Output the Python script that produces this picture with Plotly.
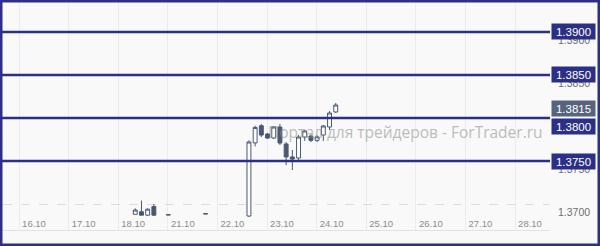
import plotly.graph_objects as go

# ---- data ----
day_labels = ["16.10", "17.10", "18.10", "21.10", "22.10", "23.10",
              "24.10", "25.10", "26.10", "27.10", "28.10"]

candle_day = ["18.10", "18.10", "18.10", "18.10", "18.10", "21.10",
              "22.10", "22.10", "22.10", "22.10", "22.10", "22.10",
              "23.10", "23.10", "23.10", "23.10", "23.10", "23.10", "23.10", "23.10",
              "24.10"]
candle_hour = [1, 4, 7, 10, 17, 11,
               8, 11, 14, 17, 20, 23,
               2, 5, 8, 11, 14, 17, 20, 23,
               2]
opens = [1.3688, 1.3691, 1.3687, 1.3697, 1.36872, 1.36884,
         1.3686, 1.3771, 1.3791, 1.37814, 1.37767, 1.37895,
         1.37698, 1.37547, 1.37535, 1.37779, 1.3779, 1.3774, 1.37802, 1.37895,
         1.3807]
highs = [1.3695, 1.3704, 1.3695, 1.3700, 1.36876, 1.36888,
         1.3774, 1.3791, 1.3793, 1.37826, 1.37907, 1.37930,
         1.37721, 1.37628, 1.37802, 1.37860, 1.3781, 1.3780, 1.37919, 1.38081,
         1.38174]
lows = [1.3688, 1.3687, 1.3686, 1.3686, 1.36872, 1.36884,
        1.3685, 1.3767, 1.37779, 1.37756, 1.37756, 1.37686,
        1.37453, 1.37395, 1.37488, 1.37733, 1.3772, 1.3772, 1.37733, 1.37860,
        1.3806]
closes = [1.3693, 1.3687, 1.3694, 1.3687, 1.36876, 1.36888,
          1.37721, 1.3789, 1.37802, 1.37767, 1.37895, 1.37709,
          1.37547, 1.37523, 1.37779, 1.37849, 1.3774, 1.3778, 1.37907, 1.38058,
          1.38151]

levels = [1.3900, 1.3850, 1.3800, 1.3750]
level_label_shift = [0, 0, -9, 0]
y_ticks = [1.3700, 1.3750, 1.3800, 1.3850, 1.3900]
watermark = "Портал для трейдеров - ForTrader.ru"

# ---- styling ----
BLUE = "#2c2f86"
CANDLE = "#4a5872"
W, H = 600, 246
ML, MR, MT, MB = 3, 50, 3, 16
PW, PH = W - ML - MR, H - MT - MB

x_vals = [day_labels.index(d) + h / 24 for d, h in zip(candle_day, candle_hour)]

fig = go.Figure()
fig.add_trace(go.Candlestick(
    x=x_vals, open=opens, high=highs, low=lows, close=closes,
    increasing=dict(line=dict(color=CANDLE, width=1), fillcolor="#ffffff"),
    decreasing=dict(line=dict(color=CANDLE, width=1), fillcolor=CANDLE),
    whiskerwidth=0, showlegend=False, hoverinfo="skip",
))

shapes = []
for lv in levels:
    shapes.append(dict(type="line", xref="paper", yref="y",
                       x0=-ML / PW, x1=1, y0=lv, y1=lv,
                       line=dict(color=BLUE, width=2.5), layer="above"))
# outer frame
shapes.append(dict(type="rect", xref="paper", yref="paper",
                   x0=-ML / PW, x1=1 + MR / PW, y0=-MB / PH, y1=1 + MT / PH,
                   line=dict(color=BLUE, width=5), layer="above"))

annotations = []
for lv, sh in zip(levels, level_label_shift):
    annotations.append(dict(
        xref="paper", yref="y", x=1, y=lv, xanchor="left", yanchor="middle",
        xshift=1, yshift=sh, text=f"{lv:.4f}", showarrow=False,
        bgcolor=BLUE, font=dict(color="white", size=11.5, family="Liberation Sans"),
        borderpad=1.5, width=40, align="center"))
last = closes[-1]
annotations.append(dict(
    xref="paper", yref="y", x=1, y=last, xanchor="left", yanchor="middle",
    xshift=1, yshift=-3, text=f"{last:.4f}", showarrow=False,
    bgcolor="#56647e", font=dict(color="white", size=11.5, family="Liberation Sans"),
    borderpad=1.5, width=40, align="center"))
annotations.insert(0, dict(
    xref="paper", yref="y", x=1, y=1.3784, xanchor="right", yanchor="middle",
    xshift=-5, text=watermark, showarrow=False, opacity=0.55,
    font=dict(color="#8a8a8a", size=15.5, family="Open Sans")))

fig.update_layout(
    width=W, height=H,
    margin=dict(l=ML, r=MR, t=MT, b=MB, pad=0),
    paper_bgcolor="#f9f9fa", plot_bgcolor="#f9f9fa",
    boxgap=0.1,
    shapes=shapes, annotations=annotations,
    xaxis=dict(range=[-0.625, 10.403], tickvals=list(range(len(day_labels))),
               ticktext=day_labels, showgrid=False, zeroline=False,
               ticklabelposition="inside", ticks="",
               tickfont=dict(color="#8c8c8c", size=9.5, family="Liberation Sans"),
               showline=True, linecolor="#e2e2e6", linewidth=1,
               rangeslider=dict(visible=False),
               minor=dict(tick0=0.7, dtick=1, showgrid=True, gridcolor="#ececf0")),
    yaxis=dict(range=[1.366977, 1.39337], side="right",
               tickvals=y_ticks, ticktext=[f"{v:.4f}" for v in y_ticks],
               showgrid=True, gridcolor="#dcdcdc", griddash="dash", zeroline=False,
               ticklabelshift=8, ticklabelstandoff=7, ticks="",
               tickfont=dict(color="#6e6e6e", size=10.5, family="Liberation Sans")),
)

fig.write_html("out.html")
